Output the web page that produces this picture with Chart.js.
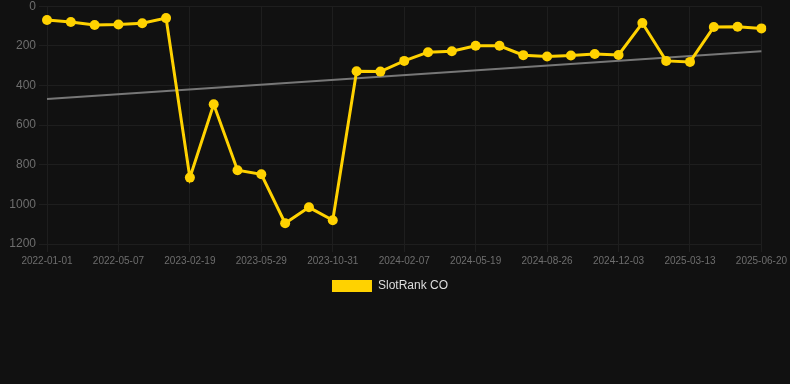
<!DOCTYPE html>
<html>
<head>
<meta charset="utf-8">
<script src="https://cdn.jsdelivr.net/npm/chart.js@4.4.0/dist/chart.umd.min.js"></script>
<style>
  html, body { margin: 0; padding: 0; background: #111111; }
  #graphDiv { width: 790px; height: 306px; margin-top: -4px; }
</style>
</head>
<body>
<div id="graphDiv"></div>
<script>
// Dates des relevés (une étiquette sur trois est affichée)
const dates = [
    '2022-01-01', '2022-02-12', '2022-03-26', '2022-05-07', '2022-06-18', '2022-07-30',
    '2023-02-19', '2023-03-23', '2023-04-26', '2023-05-29', '2023-07-02', '2023-08-05',
    '2023-10-31', '2023-12-03', '2024-01-05', '2024-02-07', '2024-03-10', '2024-04-14',
    '2024-05-19', '2024-06-21', '2024-07-24', '2024-08-26', '2024-09-28', '2024-10-31',
    '2024-12-03', '2025-01-05', '2025-02-08', '2025-03-13', '2025-04-15', '2025-05-18',
    '2025-06-20'
];

// Rang SlotRank CO
const rankValues = [
    70, 80, 95, 92, 86, 60,
    865, 495, 828, 848, 1095, 1015,
    1080, 328, 330, 276, 232, 227,
    200, 200, 247, 254, 249, 241,
    246, 85, 276, 281, 105, 104,
    112
];

// Tendance : début et fin seulement
const trendStart = 468;
const trendEnd = 227;
const trendValues = dates.map((d, i) => i === 0 ? trendStart : (i === dates.length - 1 ? trendEnd : null));

const yTicks = [0, 200, 400, 600, 800, 1000, 1200];

const ctx = document.createElement('canvas');
document.getElementById('graphDiv').appendChild(ctx);

const chart = new Chart(ctx, {
    type: 'line',
    data: {
        labels: dates,
        datasets: [{
            label: 'SlotRank CO',
            data: rankValues,
            borderColor: '#ffd200',
            backgroundColor: '#ffd200',
            borderWidth: 3,
            pointRadius: 5,
            pointBackgroundColor: '#ffd200',
            pointBorderWidth: 0,
            tension: 0
        }, {
            label: 'Tendance',
            data: trendValues,
            borderColor: '#777777',
            borderWidth: 2,
            pointRadius: 0,
            spanGaps: true,
            tension: 0
        }]
    },
    options: {
        responsive: true,
        maintainAspectRatio: false,
        animation: false,
        layout: { padding: { left: 0, right: 10, top: 0, bottom: 0 } },
        scales: {
            x: {
                grid: {
                    color: c => (c.index % 3 === 0 ? '#1e1e1e' : 'rgba(0,0,0,0)')
                },
                border: { display: false },
                ticks: {
                    color: '#6e6e6e',
                    font: { size: 10, family: 'Liberation Sans, Arial, sans-serif' },
                    autoSkip: false,
                    maxRotation: 0,
                    callback: function(value, index) {
                        return index % 3 === 0 ? dates[index] : '';
                    }
                }
            },
            y: {
                reverse: true,
                min: 0,
                max: 1200,
                grid: { color: '#1e1e1e' },
                border: { display: false },
                afterBuildTicks: function(axis) {
                    axis.ticks = yTicks.map(v => ({ value: v }));
                },
                afterFit: function(axis) {
                    axis.width = 47;
                },
                ticks: {
                    color: '#6e6e6e',
                    font: { size: 12, family: 'Liberation Sans, Arial, sans-serif' },
                    callback: value => String(value)
                }
            }
        },
        plugins: {
            legend: {
                position: 'bottom',
                labels: {
                    color: '#dddddd',
                    boxWidth: 40,
                    boxHeight: 12,
                    font: { size: 12, family: 'Liberation Sans, Arial, sans-serif' },
                    filter: item => item.datasetIndex === 0,
                    generateLabels: function(chart) {
                        return Chart.defaults.plugins.legend.labels.generateLabels(chart)
                            .map(item => Object.assign(item, { lineWidth: 0 }));
                    }
                }
            },
            tooltip: { enabled: false }
        }
    }
});
</script>
</body>
</html>
